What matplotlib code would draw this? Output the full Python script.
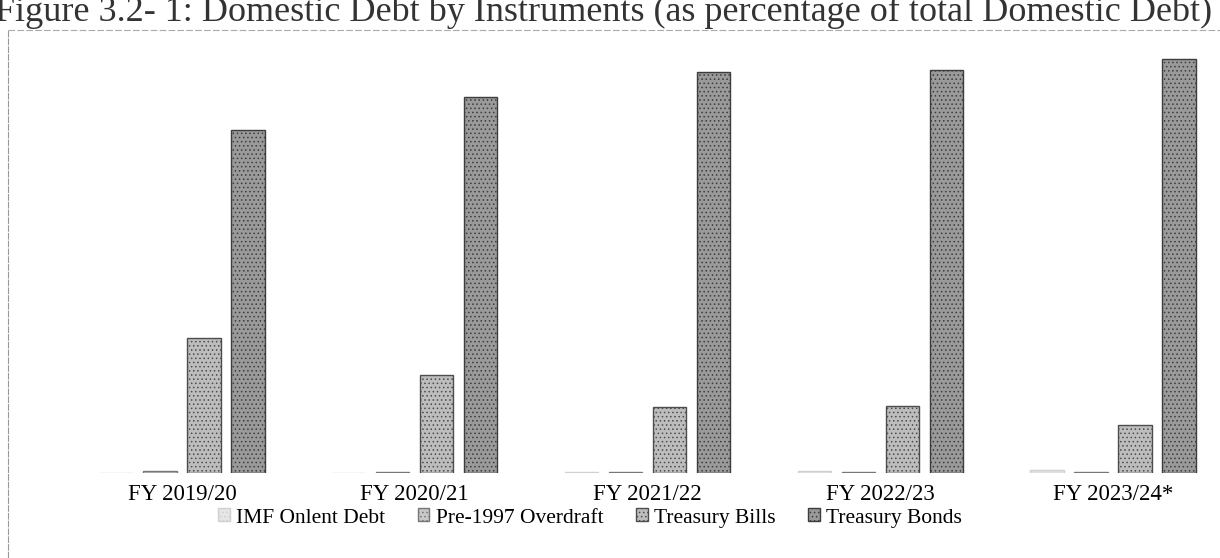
import matplotlib.pyplot as plt
import numpy as np

plt.rcParams['font.family'] = ['Liberation Serif', 'DejaVu Serif']
plt.rcParams['hatch.linewidth'] = 0.6

years = ['FY 2019/20', 'FY 2020/21', 'FY 2021/22', 'FY 2022/23', 'FY 2023/24*']
imf_onlent = [0.0, 0.0, 0.3, 0.5, 0.6]
overdraft = [0.4, 0.3, 0.3, 0.3, 0.3]
tbills = [28.1, 20.4, 13.8, 14.0, 10.0]
tbonds = [71.5, 78.3, 83.5, 84.0, 86.3]

series = [
    ('IMF Onlent Debt', imf_onlent, '#e6e6e6', '#d0d0d0'),
    ('Pre-1997 Overdraft', overdraft, '#c8c8c8', '#777777'),
    ('Treasury Bills', tbills, '#bdbdbd', '#4d4d4d'),
    ('Treasury Bonds', tbonds, '#9a9a9a', '#3d3d3d'),
]

fig = plt.figure(figsize=(12.2, 5.58), dpi=100)
ax = fig.add_axes([0, 85 / 558, 1, 473 / 558])

x = np.arange(len(years))
step = 0.189
width = 0.142
for k, (name, vals, fc, ec) in enumerate(series):
    ax.bar(x + (k - 1.5) * step, vals, width, color=fc, edgecolor=ec,
           linewidth=1.0, hatch='....', label=name)

ax.set_xlim(-182 / 232.75, (1220 - 182) / 232.75)
ax.set_ylim(0, 473 / 4.8)
ax.set_xticks(x)
ax.set_xticklabels(years, fontsize=16.5)
ax.tick_params(axis='x', length=0, pad=8)
ax.set_yticks([])
for s in ax.spines.values():
    s.set_visible(False)

fig.legend(loc='center', bbox_to_anchor=(590 / 1220, 1 - 518 / 558), ncol=4,
           frameon=False, fontsize=15.5, handlelength=0.55, handleheight=0.55,
           handletextpad=0.3, columnspacing=1.5)

# scanned figure title, partly cut off at the top
fig.text(-0.004, 1 - 21 / 558,
         'Figure 3.2- 1: Domestic Debt by Instruments (as percentage of total Domestic Debt)',
         fontsize=26, va='baseline', ha='left', color='#333333')

# frame of the chart area
fig.add_artist(plt.Line2D([8 / 1220, 8 / 1220], [0, 1 - 30 / 558],
                          color='#999999', lw=0.8, ls=(0, (6, 1))))
fig.add_artist(plt.Line2D([8 / 1220, 1], [1 - 30 / 558, 1 - 30 / 558],
                          color='#aaaaaa', lw=0.8, ls=(0, (6, 2))))

fig.savefig('out.png', dpi=100)
